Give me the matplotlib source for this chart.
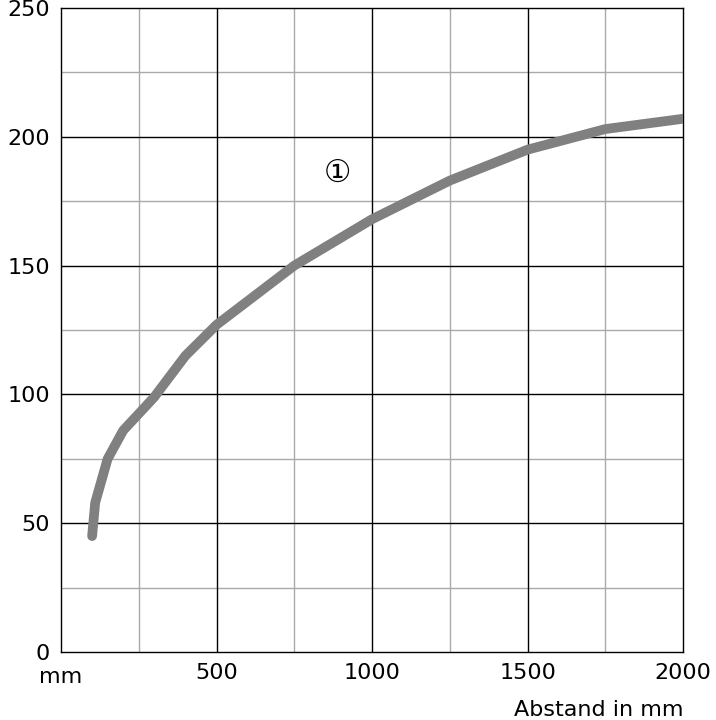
import matplotlib
matplotlib.use('Agg')
import matplotlib.pyplot as plt

# curve (Abstand in mm -> value in mm)
dist = [100, 110, 150, 200, 254, 300, 400, 500, 750, 1000, 1250, 1500, 1750, 2000]
val = [45, 58, 75, 86, 93, 99, 115, 127, 150, 168, 183, 195, 203, 207]
x_ticks = [500, 1000, 1500, 2000]
y_ticks = [0, 50, 100, 150, 200, 250]

plt.rcParams['font.family'] = ['DejaVu Sans', 'Noto Sans CJK SC']
fig = plt.figure(figsize=(7.16, 7.2), dpi=100)
ax = fig.add_axes([61/716, 68/720, 622/716, 644/720])
ax.set_xlim(0, 2000); ax.set_ylim(0, 250)

# grid: grey minor, black major
for gx in range(250, 2000, 500):
    ax.axvline(gx, color='#aaaaaa', lw=1, zorder=0)
for gy in range(25, 250, 50):
    ax.axhline(gy, color='#aaaaaa', lw=1, zorder=0)
for gx in range(500, 2000, 500):
    ax.axvline(gx, color='black', lw=1, zorder=1)
for gy in range(50, 250, 50):
    ax.axhline(gy, color='black', lw=1, zorder=1)
for s in ax.spines.values():
    s.set_color('black'); s.set_linewidth(1)

ax.plot(dist, val, color='#808080', lw=7, solid_capstyle='round', zorder=3)
ax.text(890, 186, '①', fontsize=22, ha='center', va='center')

ax.set_xticks(x_ticks); ax.set_yticks(y_ticks)
ax.tick_params(length=0, labelsize=16, pad=8)
ax.text(0, -6, 'mm', fontsize=16, ha='center', va='top')
ax.text(1.0, -0.075, 'Abstand in mm', transform=ax.transAxes, fontsize=16, ha='right', va='top')

fig.savefig('out.png', dpi=100)
